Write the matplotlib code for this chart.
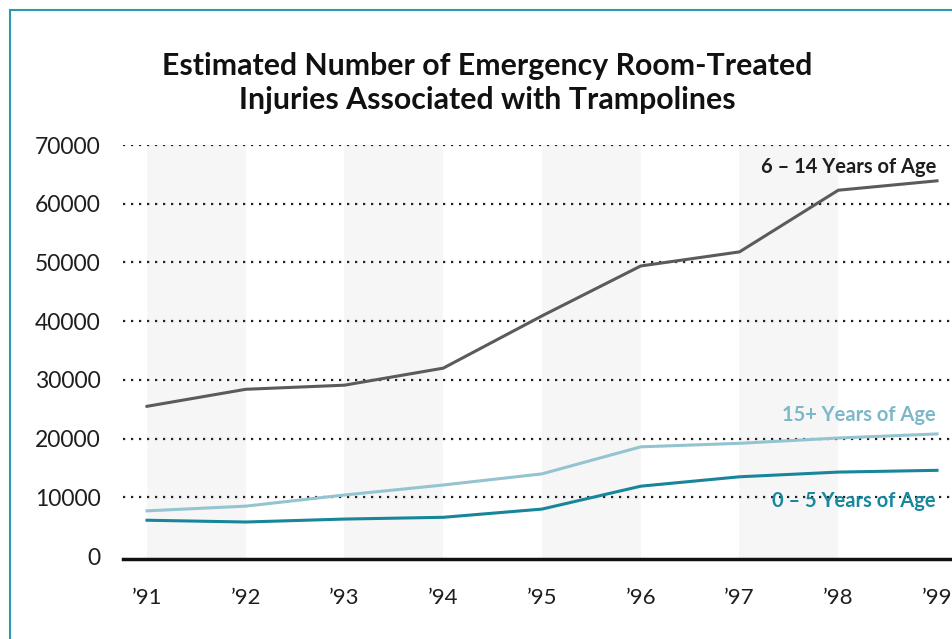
import matplotlib
matplotlib.use("Agg")
import matplotlib.pyplot as plt
from matplotlib.patches import Rectangle

plt.rcParams['font.family'] = ['Lato', 'DejaVu Sans']

# data
years = ["\u201991", "\u201992", "\u201993", "\u201994", "\u201995",
         "\u201996", "\u201997", "\u201998", "\u201999"]
age_6_14 = [25500, 28400, 29100, 32000, 40900, 49400, 51800, 62300, 63900]
age_15_up = [7700, 8500, 10400, 12100, 14000, 18600, 19200, 20100, 20800]
age_0_5 = [6100, 5800, 6300, 6600, 8000, 11900, 13500, 14300, 14600]
y_ticks = [0, 10000, 20000, 30000, 40000, 50000, 60000, 70000]

x = list(range(len(years)))

fig = plt.figure(figsize=(9.53, 6.39), dpi=100)
# teal frame around the chart
fig.patches.append(Rectangle((10/953, -0.1), 1.1, 1 - 10/639 + 0.1,
                             transform=fig.transFigure, fill=False,
                             edgecolor="#2a9aae", linewidth=1.5))

ax = fig.add_axes([123/953, 1 - 559/639, (953 - 123)/953, 414/639])
ax.set_xlim(-24/98.75, (953 - 147)/98.75)
ax.set_ylim(-500, 70000)

# shaded bands every other year
for i in range(0, 8, 2):
    ax.axvspan(i, i + 1, ymax=1, color="#f6f6f6", lw=0, zorder=0)

for v in y_ticks[1:]:
    ax.axhline(v, color="#222222", lw=1.6, linestyle=(0, (1, 2.6)), zorder=1)

ax.plot(x, age_6_14, color="#5b5b5b", lw=2.2, zorder=3)
ax.plot(x, age_15_up, color="#93c4d0", lw=2.2, zorder=3)
ax.plot(x, age_0_5, color="#17859a", lw=2.2, zorder=3)

ax.text(7.99, 66300, "6 \u2013 14 Years of Age", ha="right", va="center",
        fontsize=14.5, fontweight="bold", color="#1e1e1e")
ax.text(7.99, 24000, "15+ Years of Age", ha="right", va="center",
        fontsize=14.5, fontweight="bold", color="#7db8c8")
ax.text(7.99, 9400, "0 \u2013 5 Years of Age", ha="right", va="center",
        fontsize=14.5, fontweight="bold", color="#17889e")

for s in ["top", "right", "left"]:
    ax.spines[s].set_visible(False)
ax.spines["bottom"].set_linewidth(2.5)
ax.spines["bottom"].set_color("#111111")

ax.set_xticks(x)
ax.set_xticklabels(years, fontsize=16, color="#1e1e1e")
ax.set_yticks(y_ticks)
ax.set_yticklabels([str(v) for v in y_ticks], fontsize=16.5, color="#1e1e1e")
ax.tick_params(axis="x", length=0, pad=21)
ax.tick_params(axis="y", length=0, pad=16)

fig.text(487/953, 1 - 83/639,
         "Estimated Number of Emergency Room-Treated\nInjuries Associated with Trampolines",
         ha="center", va="center", fontsize=21.8, fontweight="bold",
         color="#111111", linespacing=1.3)

fig.savefig("out.png", dpi=100)
